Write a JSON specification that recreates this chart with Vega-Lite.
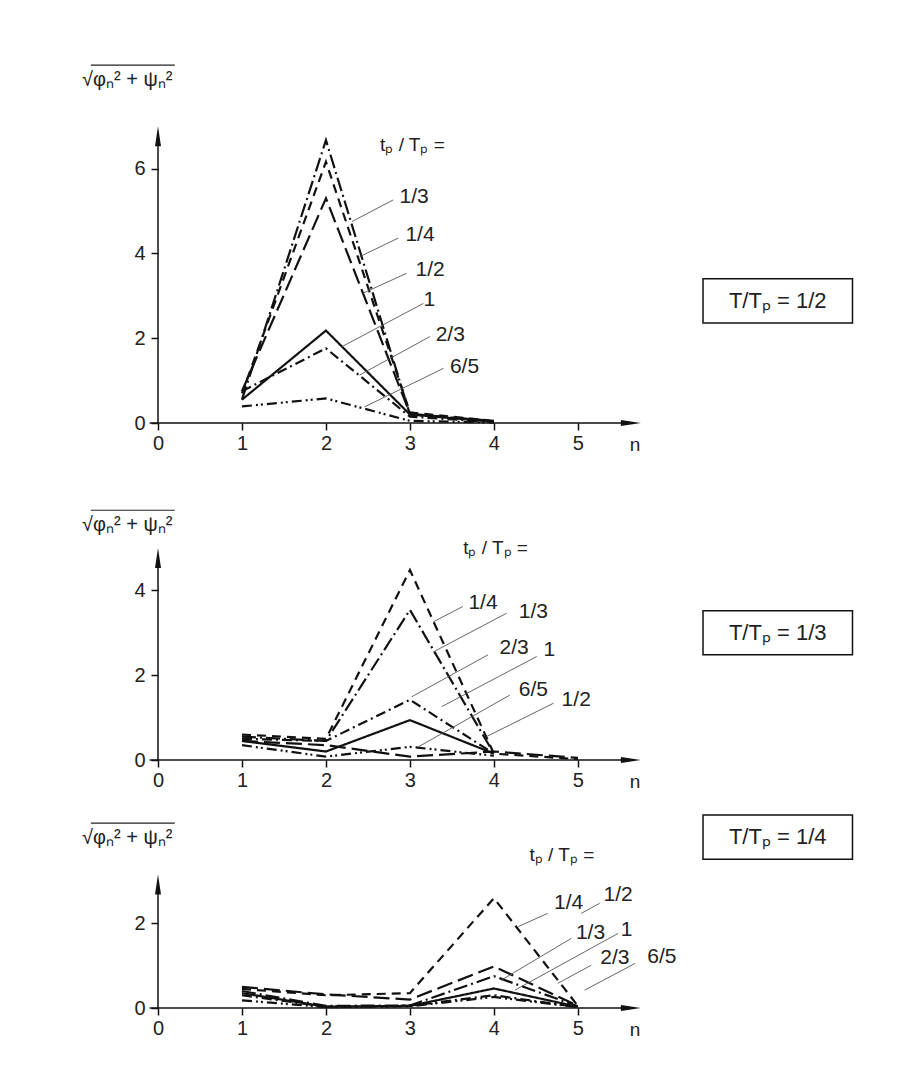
{
  "$schema": "https://vega.github.io/schema/vega-lite/v6.json",
  "background": "white",
  "padding": {"left": 82, "top": 63, "right": 5, "bottom": 5},
  "config": {
    "view": {"stroke": null},
    "font": "Liberation Sans",
    "axis": {"labelFont": "Liberation Sans", "labelFontSize": 20, "labelColor": "#222", "tickColor": "#111", "tickWidth": 1.5, "tickSize": 7, "domain": false, "grid": false, "labelFlush": false, "labelOverlap": false, "format": "d"},
    "axisX": {"labelPadding": 3},
    "axisY": {"labelPadding": 6},
    "text": {"font": "Liberation Sans", "color": "#222"}
  },
  "datasets": {
    "curves": [
      {"p": 1, "r": "1/3", "n": 1, "v": 0.55}, {"p": 1, "r": "1/3", "n": 2, "v": 6.67}, {"p": 1, "r": "1/3", "n": 3, "v": 0.2}, {"p": 1, "r": "1/3", "n": 4, "v": 0.05},
      {"p": 1, "r": "1/4", "n": 1, "v": 0.7}, {"p": 1, "r": "1/4", "n": 2, "v": 6.16}, {"p": 1, "r": "1/4", "n": 3, "v": 0.25}, {"p": 1, "r": "1/4", "n": 4, "v": 0.05},
      {"p": 1, "r": "1/2", "n": 1, "v": 0.75}, {"p": 1, "r": "1/2", "n": 2, "v": 5.3}, {"p": 1, "r": "1/2", "n": 3, "v": 0.22}, {"p": 1, "r": "1/2", "n": 4, "v": 0.04},
      {"p": 1, "r": "1", "n": 1, "v": 0.55}, {"p": 1, "r": "1", "n": 2, "v": 2.18}, {"p": 1, "r": "1", "n": 3, "v": 0.2}, {"p": 1, "r": "1", "n": 4, "v": 0.03},
      {"p": 1, "r": "2/3", "n": 1, "v": 0.75}, {"p": 1, "r": "2/3", "n": 2, "v": 1.76}, {"p": 1, "r": "2/3", "n": 3, "v": 0.15}, {"p": 1, "r": "2/3", "n": 4, "v": 0.02},
      {"p": 1, "r": "6/5", "n": 1, "v": 0.39}, {"p": 1, "r": "6/5", "n": 2, "v": 0.58}, {"p": 1, "r": "6/5", "n": 3, "v": 0.05}, {"p": 1, "r": "6/5", "n": 4, "v": 0.01},

      {"p": 2, "r": "1/4", "n": 1, "v": 0.6}, {"p": 2, "r": "1/4", "n": 2, "v": 0.5}, {"p": 2, "r": "1/4", "n": 3, "v": 4.48}, {"p": 2, "r": "1/4", "n": 4, "v": 0.15}, {"p": 2, "r": "1/4", "n": 5, "v": 0.02},
      {"p": 2, "r": "1/3", "n": 1, "v": 0.55}, {"p": 2, "r": "1/3", "n": 2, "v": 0.45}, {"p": 2, "r": "1/3", "n": 3, "v": 3.54}, {"p": 2, "r": "1/3", "n": 4, "v": 0.15},
      {"p": 2, "r": "1/2", "n": 1, "v": 0.45}, {"p": 2, "r": "1/2", "n": 2, "v": 0.35}, {"p": 2, "r": "1/2", "n": 3, "v": 0.08}, {"p": 2, "r": "1/2", "n": 4, "v": 0.2}, {"p": 2, "r": "1/2", "n": 5, "v": 0.05},
      {"p": 2, "r": "1", "n": 1, "v": 0.45}, {"p": 2, "r": "1", "n": 2, "v": 0.2}, {"p": 2, "r": "1", "n": 3, "v": 0.94}, {"p": 2, "r": "1", "n": 4, "v": 0.15},
      {"p": 2, "r": "2/3", "n": 1, "v": 0.5}, {"p": 2, "r": "2/3", "n": 2, "v": 0.45}, {"p": 2, "r": "2/3", "n": 3, "v": 1.42}, {"p": 2, "r": "2/3", "n": 4, "v": 0.15},
      {"p": 2, "r": "6/5", "n": 1, "v": 0.35}, {"p": 2, "r": "6/5", "n": 2, "v": 0.08}, {"p": 2, "r": "6/5", "n": 3, "v": 0.31}, {"p": 2, "r": "6/5", "n": 4, "v": 0.1},

      {"p": 3, "r": "1/4", "n": 1, "v": 0.45}, {"p": 3, "r": "1/4", "n": 2, "v": 0.3}, {"p": 3, "r": "1/4", "n": 3, "v": 0.35}, {"p": 3, "r": "1/4", "n": 4, "v": 2.59}, {"p": 3, "r": "1/4", "n": 5, "v": 0.05},
      {"p": 3, "r": "1/2", "n": 1, "v": 0.5}, {"p": 3, "r": "1/2", "n": 2, "v": 0.32}, {"p": 3, "r": "1/2", "n": 3, "v": 0.2}, {"p": 3, "r": "1/2", "n": 4, "v": 0.98}, {"p": 3, "r": "1/2", "n": 5, "v": 0.05},
      {"p": 3, "r": "1/3", "n": 1, "v": 0.4}, {"p": 3, "r": "1/3", "n": 2, "v": 0.05}, {"p": 3, "r": "1/3", "n": 3, "v": 0.06}, {"p": 3, "r": "1/3", "n": 4, "v": 0.75}, {"p": 3, "r": "1/3", "n": 5, "v": 0.04},
      {"p": 3, "r": "1", "n": 1, "v": 0.35}, {"p": 3, "r": "1", "n": 2, "v": 0.03}, {"p": 3, "r": "1", "n": 3, "v": 0.05}, {"p": 3, "r": "1", "n": 4, "v": 0.46}, {"p": 3, "r": "1", "n": 5, "v": 0.03},
      {"p": 3, "r": "2/3", "n": 1, "v": 0.3}, {"p": 3, "r": "2/3", "n": 2, "v": 0.03}, {"p": 3, "r": "2/3", "n": 3, "v": 0.05}, {"p": 3, "r": "2/3", "n": 4, "v": 0.3}, {"p": 3, "r": "2/3", "n": 5, "v": 0.02},
      {"p": 3, "r": "6/5", "n": 1, "v": 0.18}, {"p": 3, "r": "6/5", "n": 2, "v": 0.02}, {"p": 3, "r": "6/5", "n": 3, "v": 0.04}, {"p": 3, "r": "6/5", "n": 4, "v": 0.26}, {"p": 3, "r": "6/5", "n": 5, "v": 0.02}
    ],
    "ann": [
      {"p": 1, "t": "1/3", "x": 3.05, "y": 5.34, "sx": 2.8, "sy": 5.26, "ex": 2.31, "ey": 4.75},
      {"p": 1, "t": "1/4", "x": 3.12, "y": 4.43, "sx": 2.86, "sy": 4.36, "ex": 2.4, "ey": 3.92},
      {"p": 1, "t": "1/2", "x": 3.24, "y": 3.61, "sx": 2.96, "sy": 3.53, "ex": 2.44, "ey": 3.06},
      {"p": 1, "t": "1", "x": 3.23, "y": 2.9, "sx": 3.16, "sy": 2.82, "ex": 2.19, "ey": 1.8},
      {"p": 1, "t": "2/3", "x": 3.48, "y": 2.08, "sx": 3.24, "sy": 2.04, "ex": 2.4, "ey": 1.13},
      {"p": 1, "t": "6/5", "x": 3.65, "y": 1.33, "sx": 3.4, "sy": 1.29, "ex": 2.46, "ey": 0.38},
      {"p": 2, "t": "1/4", "x": 3.87, "y": 3.7, "sx": 3.63, "sy": 3.62, "ex": 3.28, "ey": 3.26},
      {"p": 2, "t": "1/3", "x": 4.47, "y": 3.5, "sx": 4.15, "sy": 3.46, "ex": 3.28, "ey": 2.55},
      {"p": 2, "t": "2/3", "x": 4.24, "y": 2.63, "sx": 3.93, "sy": 2.48, "ex": 3.02, "ey": 1.49},
      {"p": 2, "t": "1", "x": 4.66, "y": 2.59, "sx": 4.51, "sy": 2.44, "ex": 3.38, "ey": 1.26},
      {"p": 2, "t": "6/5", "x": 4.47, "y": 1.65, "sx": 4.19, "sy": 1.53, "ex": 3.1, "ey": 0.31},
      {"p": 2, "t": "1/2", "x": 4.98, "y": 1.42, "sx": 4.71, "sy": 1.34, "ex": 3.91, "ey": 0.55},
      {"p": 3, "t": "1/4", "x": 4.89, "y": 2.47, "sx": 4.64, "sy": 2.23, "ex": 4.29, "ey": 1.92},
      {"p": 3, "t": "1/2", "x": 5.48, "y": 2.67, "sx": 5.26, "sy": 2.47, "ex": 5.04, "ey": 2.23},
      {"p": 3, "t": "1/3", "x": 5.15, "y": 1.78, "sx": 4.92, "sy": 1.64, "ex": 4.09, "ey": 0.66},
      {"p": 3, "t": "1", "x": 5.58, "y": 1.84, "sx": 5.48, "sy": 1.76, "ex": 4.25, "ey": 0.42},
      {"p": 3, "t": "2/3", "x": 5.44, "y": 1.17, "sx": 5.16, "sy": 1.01, "ex": 4.76, "ey": 0.58},
      {"p": 3, "t": "6/5", "x": 6.0, "y": 1.21, "sx": 5.68, "sy": 1.05, "ex": 5.08, "ey": 0.42}
    ]
  },
  "spacing": 83,
  "bounds": "flush",
  "vconcat": [
    {
      "width": 739, "height": 360,
      "layer": [
        {"data": {"name": "curves"}, "transform": [{"filter": "datum.p == 1"}],
         "mark": {"type": "line", "strokeWidth": 2.2, "color": "#111"},
         "encoding": {
           "x": {"field": "n", "type": "quantitative", "title": null, "scale": {"domain": [0, 8.8], "nice": false, "zero": false}, "axis": {"values": [0, 1, 2, 3, 4, 5], "title": null}},
           "y": {"field": "v", "type": "quantitative", "title": null, "scale": {"domain": [0, 8.49], "nice": false, "zero": false}, "axis": {"values": [0, 2, 4, 6], "title": null}},
           "strokeDash": {"field": "r", "type": "nominal", "legend": null, "scale": {"domain": ["1/4", "1/3", "1/2", "1", "2/3", "6/5"], "range": [[9, 6], [14, 4, 2, 4], [16, 6], [1, 0], [10, 4, 2, 4], [10, 4, 2, 3, 2, 4]]}}
         }},
        {"data": {"values": [{}]}, "mark": {"type": "rule", "strokeWidth": 1.5, "color": "#111"},
         "encoding": {"x": {"datum": -0.1, "type": "quantitative"}, "x2": {"datum": 5.55}, "y": {"datum": 0, "type": "quantitative"}}},
        {"data": {"values": [{}]}, "mark": {"type": "rule", "strokeWidth": 1.5, "color": "#111"},
         "encoding": {"x": {"datum": 0, "type": "quantitative"}, "y": {"datum": 0, "type": "quantitative"}, "y2": {"datum": 6.8}}},
        {"data": {"values": [{}]}, "mark": {"type": "point", "shape": "M0,0L-2,-0.3L-2,0.3Z", "filled": true, "size": 400, "color": "#111", "opacity": 1},
         "encoding": {"x": {"datum": 5.75, "type": "quantitative"}, "y": {"datum": 0, "type": "quantitative"}}},
        {"data": {"values": [{}]}, "mark": {"type": "point", "shape": "M0,0L-0.3,2L0.3,2Z", "filled": true, "size": 400, "color": "#111", "opacity": 1},
         "encoding": {"x": {"datum": 0, "type": "quantitative"}, "y": {"datum": 7.0, "type": "quantitative"}}},
        {"data": {"name": "ann"}, "transform": [{"filter": "datum.p == 1"}],
         "mark": {"type": "rule", "strokeWidth": 0.9, "color": "#555"},
         "encoding": {"x": {"field": "sx", "type": "quantitative", "title": null}, "y": {"field": "sy", "type": "quantitative", "title": null}, "x2": {"field": "ex"}, "y2": {"field": "ey"}}},
        {"data": {"name": "ann"}, "transform": [{"filter": "datum.p == 1"}],
         "mark": {"type": "text", "fontSize": 21, "align": "center", "baseline": "middle"},
         "encoding": {"x": {"field": "x", "type": "quantitative", "title": null}, "y": {"field": "y", "type": "quantitative", "title": null}, "text": {"field": "t"}}},
        {"data": {"values": [{}]}, "mark": {"type": "text", "fontSize": 19, "align": "center", "baseline": "middle", "text": "tₚ / Tₚ ="},
         "encoding": {"x": {"datum": 3.03, "type": "quantitative"}, "y": {"datum": 6.56, "type": "quantitative"}}},
        {"data": {"values": [{}]}, "mark": {"type": "text", "fontSize": 19, "align": "center", "baseline": "middle", "text": "n", "dy": 22},
         "encoding": {"x": {"datum": 5.68, "type": "quantitative"}, "y": {"datum": 0, "type": "quantitative"}}},
        {"data": {"values": [{}]}, "mark": {"type": "rect", "fill": "white", "stroke": "#111", "strokeWidth": 1.5},
         "encoding": {"x": {"datum": 6.49, "type": "quantitative"}, "x2": {"datum": 8.27}, "y": {"datum": 3.4, "type": "quantitative"}, "y2": {"datum": 2.36}}},
        {"data": {"values": [{}]}, "mark": {"type": "text", "fontSize": 22, "align": "center", "baseline": "middle", "text": "T/Tₚ   =  1/2"},
         "encoding": {"x": {"datum": 7.38, "type": "quantitative"}, "y": {"datum": 2.88, "type": "quantitative"}}},
        {"data": {"values": [{}]}, "mark": {"type": "text", "fontSize": 20, "align": "left", "baseline": "middle", "text": "√φₙ² + ψₙ²"},
         "encoding": {"x": {"datum": -0.905, "type": "quantitative"}, "y": {"datum": 8.09, "type": "quantitative"}}},
        {"data": {"values": [{}]}, "mark": {"type": "rule", "strokeWidth": 1.2, "color": "#222"},
         "encoding": {"x": {"datum": -0.8, "type": "quantitative"}, "x2": {"datum": 0.2}, "y": {"datum": 8.44, "type": "quantitative"}}}
      ]
    },
    {
      "spacing": 44,
      "bounds": "flush",
      "vconcat": [
        {
          "width": 739, "height": 254,
          "layer": [
            {"data": {"name": "curves"}, "transform": [{"filter": "datum.p == 2"}],
             "mark": {"type": "line", "strokeWidth": 2.2, "color": "#111"},
             "encoding": {
               "x": {"field": "n", "type": "quantitative", "title": null, "scale": {"domain": [0, 8.8], "nice": false, "zero": false}, "axis": {"values": [0, 1, 2, 3, 4, 5], "title": null}},
               "y": {"field": "v", "type": "quantitative", "title": null, "scale": {"domain": [0, 5.99], "nice": false, "zero": false}, "axis": {"values": [0, 2, 4], "title": null}},
               "strokeDash": {"field": "r", "type": "nominal", "legend": null, "scale": {"domain": ["1/4", "1/3", "1/2", "1", "2/3", "6/5"], "range": [[9, 6], [14, 4, 2, 4], [16, 6], [1, 0], [10, 4, 2, 4], [10, 4, 2, 3, 2, 4]]}}
             }},
            {"data": {"values": [{}]}, "mark": {"type": "rule", "strokeWidth": 1.5, "color": "#111"},
             "encoding": {"x": {"datum": -0.1, "type": "quantitative"}, "x2": {"datum": 5.55}, "y": {"datum": 0, "type": "quantitative"}}},
            {"data": {"values": [{}]}, "mark": {"type": "rule", "strokeWidth": 1.5, "color": "#111"},
             "encoding": {"x": {"datum": 0, "type": "quantitative"}, "y": {"datum": 0, "type": "quantitative"}, "y2": {"datum": 4.8}}},
            {"data": {"values": [{}]}, "mark": {"type": "point", "shape": "M0,0L-2,-0.3L-2,0.3Z", "filled": true, "size": 400, "color": "#111", "opacity": 1},
             "encoding": {"x": {"datum": 5.75, "type": "quantitative"}, "y": {"datum": 0, "type": "quantitative"}}},
            {"data": {"values": [{}]}, "mark": {"type": "point", "shape": "M0,0L-0.3,2L0.3,2Z", "filled": true, "size": 400, "color": "#111", "opacity": 1},
             "encoding": {"x": {"datum": 0, "type": "quantitative"}, "y": {"datum": 5.0, "type": "quantitative"}}},
            {"data": {"name": "ann"}, "transform": [{"filter": "datum.p == 2"}],
             "mark": {"type": "rule", "strokeWidth": 0.9, "color": "#555"},
             "encoding": {"x": {"field": "sx", "type": "quantitative", "title": null}, "y": {"field": "sy", "type": "quantitative", "title": null}, "x2": {"field": "ex"}, "y2": {"field": "ey"}}},
            {"data": {"name": "ann"}, "transform": [{"filter": "datum.p == 2"}],
             "mark": {"type": "text", "fontSize": 21, "align": "center", "baseline": "middle"},
             "encoding": {"x": {"field": "x", "type": "quantitative", "title": null}, "y": {"field": "y", "type": "quantitative", "title": null}, "text": {"field": "t"}}},
            {"data": {"values": [{}]}, "mark": {"type": "text", "fontSize": 19, "align": "center", "baseline": "middle", "text": "tₚ / Tₚ ="},
             "encoding": {"x": {"datum": 4.02, "type": "quantitative"}, "y": {"datum": 5.0, "type": "quantitative"}}},
            {"data": {"values": [{}]}, "mark": {"type": "text", "fontSize": 19, "align": "center", "baseline": "middle", "text": "n", "dy": 22},
             "encoding": {"x": {"datum": 5.68, "type": "quantitative"}, "y": {"datum": 0, "type": "quantitative"}}},
            {"data": {"values": [{}]}, "mark": {"type": "rect", "fill": "white", "stroke": "#111", "strokeWidth": 1.5},
             "encoding": {"x": {"datum": 6.49, "type": "quantitative"}, "x2": {"datum": 8.27}, "y": {"datum": 3.52, "type": "quantitative"}, "y2": {"datum": 2.48}}},
            {"data": {"values": [{}]}, "mark": {"type": "text", "fontSize": 22, "align": "center", "baseline": "middle", "text": "T/Tₚ   =  1/3"},
             "encoding": {"x": {"datum": 7.38, "type": "quantitative"}, "y": {"datum": 3.0, "type": "quantitative"}}},
            {"data": {"values": [{}]}, "mark": {"type": "text", "fontSize": 20, "align": "left", "baseline": "middle", "text": "√φₙ² + ψₙ²"},
             "encoding": {"x": {"datum": -0.905, "type": "quantitative"}, "y": {"datum": 5.54, "type": "quantitative"}}},
            {"data": {"values": [{}]}, "mark": {"type": "rule", "strokeWidth": 1.2, "color": "#222"},
             "encoding": {"x": {"datum": -0.8, "type": "quantitative"}, "x2": {"datum": 0.2}, "y": {"datum": 5.89, "type": "quantitative"}}}
          ]
        },
        {
          "width": 739, "height": 204,
          "layer": [
            {"data": {"name": "curves"}, "transform": [{"filter": "datum.p == 3"}],
             "mark": {"type": "line", "strokeWidth": 2.2, "color": "#111"},
             "encoding": {
               "x": {"field": "n", "type": "quantitative", "title": null, "scale": {"domain": [0, 8.8], "nice": false, "zero": false}, "axis": {"values": [0, 1, 2, 3, 4, 5], "title": null}},
               "y": {"field": "v", "type": "quantitative", "title": null, "scale": {"domain": [0, 4.81], "nice": false, "zero": false}, "axis": {"values": [0, 2], "title": null}},
               "strokeDash": {"field": "r", "type": "nominal", "legend": null, "scale": {"domain": ["1/4", "1/3", "1/2", "1", "2/3", "6/5"], "range": [[9, 6], [14, 4, 2, 4], [16, 6], [1, 0], [10, 4, 2, 4], [10, 4, 2, 3, 2, 4]]}}
             }},
            {"data": {"values": [{}]}, "mark": {"type": "rule", "strokeWidth": 1.5, "color": "#111"},
             "encoding": {"x": {"datum": -0.1, "type": "quantitative"}, "x2": {"datum": 5.55}, "y": {"datum": 0, "type": "quantitative"}}},
            {"data": {"values": [{}]}, "mark": {"type": "rule", "strokeWidth": 1.5, "color": "#111"},
             "encoding": {"x": {"datum": 0, "type": "quantitative"}, "y": {"datum": 0, "type": "quantitative"}, "y2": {"datum": 2.95}}},
            {"data": {"values": [{}]}, "mark": {"type": "point", "shape": "M0,0L-2,-0.3L-2,0.3Z", "filled": true, "size": 400, "color": "#111", "opacity": 1},
             "encoding": {"x": {"datum": 5.75, "type": "quantitative"}, "y": {"datum": 0, "type": "quantitative"}}},
            {"data": {"values": [{}]}, "mark": {"type": "point", "shape": "M0,0L-0.3,2L0.3,2Z", "filled": true, "size": 400, "color": "#111", "opacity": 1},
             "encoding": {"x": {"datum": 0, "type": "quantitative"}, "y": {"datum": 3.15, "type": "quantitative"}}},
            {"data": {"name": "ann"}, "transform": [{"filter": "datum.p == 3"}],
             "mark": {"type": "rule", "strokeWidth": 0.9, "color": "#555"},
             "encoding": {"x": {"field": "sx", "type": "quantitative", "title": null}, "y": {"field": "sy", "type": "quantitative", "title": null}, "x2": {"field": "ex"}, "y2": {"field": "ey"}}},
            {"data": {"name": "ann"}, "transform": [{"filter": "datum.p == 3"}],
             "mark": {"type": "text", "fontSize": 21, "align": "center", "baseline": "middle"},
             "encoding": {"x": {"field": "x", "type": "quantitative", "title": null}, "y": {"field": "y", "type": "quantitative", "title": null}, "text": {"field": "t"}}},
            {"data": {"values": [{}]}, "mark": {"type": "text", "fontSize": 19, "align": "center", "baseline": "middle", "text": "tₚ / Tₚ ="},
             "encoding": {"x": {"datum": 4.81, "type": "quantitative"}, "y": {"datum": 3.61, "type": "quantitative"}}},
            {"data": {"values": [{}]}, "mark": {"type": "text", "fontSize": 19, "align": "center", "baseline": "middle", "text": "n", "dy": 22},
             "encoding": {"x": {"datum": 5.68, "type": "quantitative"}, "y": {"datum": 0, "type": "quantitative"}}},
            {"data": {"values": [{}]}, "mark": {"type": "rect", "fill": "white", "stroke": "#111", "strokeWidth": 1.5},
             "encoding": {"x": {"datum": 6.49, "type": "quantitative"}, "x2": {"datum": 8.27}, "y": {"datum": 4.55, "type": "quantitative"}, "y2": {"datum": 3.51}}},
            {"data": {"values": [{}]}, "mark": {"type": "text", "fontSize": 22, "align": "center", "baseline": "middle", "text": "T/Tₚ   =  1/4"},
             "encoding": {"x": {"datum": 7.38, "type": "quantitative"}, "y": {"datum": 4.03, "type": "quantitative"}}},
            {"data": {"values": [{}]}, "mark": {"type": "text", "fontSize": 20, "align": "left", "baseline": "middle", "text": "√φₙ² + ψₙ²"},
             "encoding": {"x": {"datum": -0.905, "type": "quantitative"}, "y": {"datum": 4.01, "type": "quantitative"}}},
            {"data": {"values": [{}]}, "mark": {"type": "rule", "strokeWidth": 1.2, "color": "#222"},
             "encoding": {"x": {"datum": -0.8, "type": "quantitative"}, "x2": {"datum": 0.2}, "y": {"datum": 4.36, "type": "quantitative"}}}
          ]
        }
      ]
    }
  ]
}
